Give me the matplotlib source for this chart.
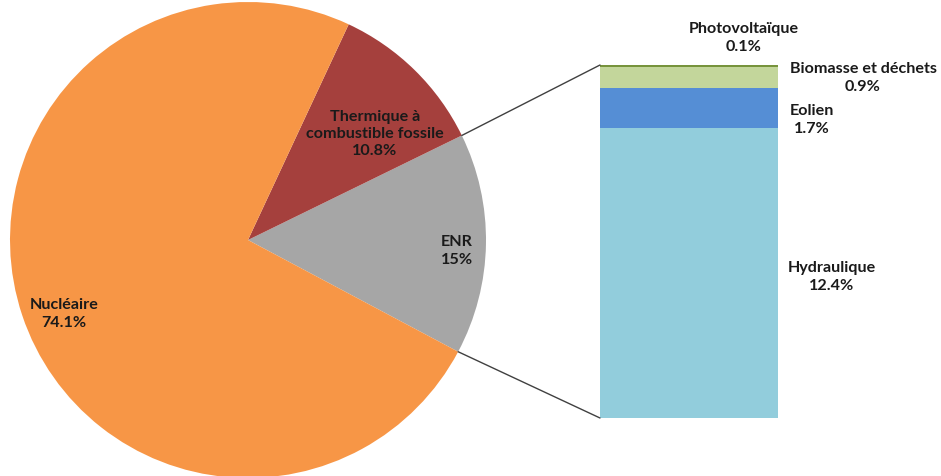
import matplotlib
matplotlib.use("Agg")
import matplotlib.pyplot as plt
from matplotlib.patches import ConnectionPatch
import numpy as np

plt.rcParams['font.family'] = ['Lato', 'DejaVu Sans']

# main pie
pie_labels = ["ENR", "Thermique à\ncombustible fossile", "Nucléaire"]
pie_values = [15, 10.8, 74.1]
pie_texts = ["15%", "10.8%", "74.1%"]
pie_colors = ["#A6A6A6", "#A5403D", "#F79646"]

# breakdown of ENR
enr_labels = ["Hydraulique", "Eolien", "Biomasse et déchets", "Photovoltaïque"]
enr_values = [12.4, 1.7, 0.9, 0.1]
enr_texts = ["12.4%", "1.7%", "0.9%", "0.1%"]
enr_colors = ["#92CDDC", "#558ED5", "#C3D69B", "#77933C"]

W, H = 941, 476
fig = plt.figure(figsize=(W / 100, H / 100), dpi=100)

ax_pie = fig.add_axes([10 / W, -2 / H, 476 / W, 476 / H])
wedges, _ = ax_pie.pie(pie_values, colors=pie_colors, startangle=-28,
                       counterclock=True, radius=1,
                       wedgeprops=dict(linewidth=0))
ax_pie.set_xlim(-1, 1)
ax_pie.set_ylim(-1, 1)
ax_pie.set_aspect("equal")
ax_pie.axis("off")

FS = 11.6
TXT = "#1a1a1a"

# label positions inside the slices
label_pos = [(0.878, -0.046), (0.534, 0.445), (-0.773, -0.311)]
for (x, y), lab, t in zip(label_pos, pie_labels, pie_texts):
    ax_pie.text(x, y, lab + "\n" + t, ha="center", va="center",
                fontsize=FS, fontweight="bold", color=TXT,
                linespacing=1.3)

ax_bar = fig.add_axes([600 / W, 58 / H, 178 / W, 353 / H])
bottom = 0
for v, c in zip(enr_values, enr_colors):
    ax_bar.bar(0, v, bottom=bottom, width=1, color=c, linewidth=0)
    bottom += v
ax_bar.set_xlim(-0.5, 0.5)
ax_bar.set_ylim(0, sum(enr_values))
ax_bar.axis("off")

# bar labels, in figure pixels
bar_label_pos = [(832, 277), (812, 120), (863, 78), (744, 38)]
for (x, y), lab, t in zip(bar_label_pos, enr_labels, enr_texts):
    fig.text(x / W, 1 - y / H, lab + "\n" + t, ha="center", va="center",
             fontsize=FS, fontweight="bold", color=TXT,
             linespacing=1.3)

# connector lines from ENR wedge edges to bar corners
enr = wedges[0]
for ang, yb in [(enr.theta2, sum(enr_values)), (enr.theta1, 0)]:
    px = np.cos(np.radians(ang))
    py = np.sin(np.radians(ang))
    con = ConnectionPatch(xyA=(px, py), coordsA=ax_pie.transData,
                          xyB=(-0.5, yb), coordsB=ax_bar.transData,
                          color="#404040", linewidth=1)
    fig.add_artist(con)

fig.savefig("out.png", dpi=100)
